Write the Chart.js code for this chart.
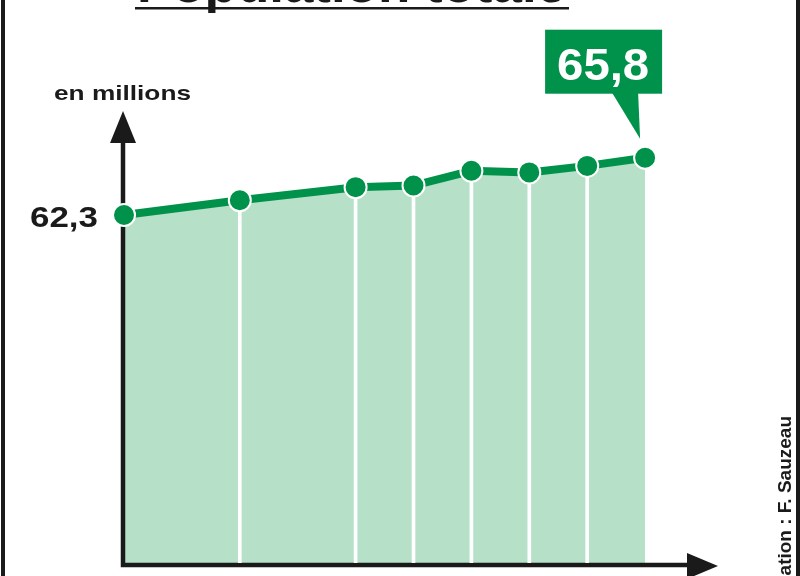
<!DOCTYPE html>
<html>
<head>
<meta charset="utf-8">
<script src="https://cdn.jsdelivr.net/npm/chart.js@4/dist/chart.umd.min.js"></script>
<style>
  body { margin: 0; background: #fff; }
  #wrap { width: 800px; height: 576px; }
</style>
</head>
<body>
<div id="wrap"><canvas id="myChart" width="800" height="576"></canvas></div>
<script>
// Population totale, en millions (years are not visible on the crop)
const years = [2004, 2006, 2008, 2009, 2010, 2011, 2012, 2013];
const population = [62.3, 63.2, 64.0, 64.1, 65.0, 64.9, 65.3, 65.8];
const chartTitle = 'Population totale';
const unitLabel = 'en millions';
const credit = 'Réalisation : F. Sauzeau';

const green = '#00924a';
const mint = '#b6e0c8';
const ink = '#1a1a1a';

function fmt(v) {
    return v.toFixed(1).replace('.', ',');
}

// draws bold text squeezed/stretched to a given width
function wideText(ctx, text, x, y, size, width, align) {
    ctx.save();
    ctx.font = 'bold ' + size + 'px "Liberation Sans", Arial, sans-serif';
    const w = ctx.measureText(text).width;
    const sx = width / w;
    let left = x;
    if (align == 'right') left = x - width;
    if (align == 'center') left = x - width / 2;
    ctx.translate(left, y);
    ctx.scale(sx, 1);
    ctx.textAlign = 'left';
    ctx.textBaseline = 'alphabetic';
    ctx.fillText(text, 0, 0);
    ctx.restore();
}

const decorations = {
    id: 'decorations',
    beforeDatasetsDraw(chart) {
        // axes with arrows, over the fill but under the line
        const ctx = chart.ctx;
        ctx.save();
        ctx.strokeStyle = ink;
        ctx.fillStyle = ink;
        ctx.lineWidth = 4.5;
        ctx.lineCap = 'square';
        ctx.beginPath();
        ctx.moveTo(123, 135);
        ctx.lineTo(123, 565);
        ctx.lineTo(695, 565);
        ctx.stroke();
        ctx.beginPath();
        ctx.moveTo(123, 111);
        ctx.lineTo(136, 143);
        ctx.lineTo(110, 143);
        ctx.closePath();
        ctx.fill();
        ctx.beginPath();
        ctx.moveTo(718, 566);
        ctx.lineTo(687, 553);
        ctx.lineTo(687, 579);
        ctx.closePath();
        ctx.fill();
        ctx.restore();
    },
    afterDraw(chart) {
        const ctx = chart.ctx;
        const xs = chart.scales.x, ys = chart.scales.y;
        ctx.save();
        ctx.fillStyle = ink;

        // frame lines left and right
        ctx.fillRect(1, 0, 4, 576);
        ctx.fillRect(796, 0, 4, 576);

        // title, cut off by the top edge
        wideText(ctx, chartTitle, 137, 2, 52, 429, 'left');
        ctx.fillRect(135, 7, 434, 2.5);

        // unit label
        wideText(ctx, unitLabel, 54, 100, 21, 137, 'left');

        // first value
        const x0 = xs.getPixelForValue(years[0]);
        const y0 = ys.getPixelForValue(population[0]);
        wideText(ctx, fmt(population[0]), x0 - 26, y0 + 12, 30, 68, 'right');

        // callout on the last value
        const n = population.length - 1;
        const px = xs.getPixelForValue(years[n]);
        const py = ys.getPixelForValue(population[n]);
        ctx.fillStyle = green;
        ctx.fillRect(px - 100, py - 128, 117, 64);
        ctx.beginPath();
        ctx.moveTo(px - 33, py - 65);
        ctx.lineTo(px - 7, py - 65);
        ctx.lineTo(px - 5, py - 19);
        ctx.closePath();
        ctx.fill();
        ctx.fillStyle = '#fff';
        wideText(ctx, fmt(population[n]), px - 42, py - 78, 45, 92, 'center');

        // credit, vertical
        ctx.fillStyle = ink;
        ctx.translate(791, 416);
        ctx.rotate(-Math.PI / 2);
        ctx.font = 'bold 19px "Liberation Sans", Arial, sans-serif';
        ctx.textAlign = 'right';
        ctx.textBaseline = 'alphabetic';
        ctx.fillText(credit, 0, 0);
        ctx.restore();
    }
};

const points = years.map((y, i) => ({ x: y, y: population[i] }));
// white drop lines below the inner points
const drops = points.map((p, i) => (i == 0 || i == points.length - 1) ? { x: p.x, y: null } : p);

new Chart(document.getElementById('myChart').getContext('2d'), {
    data: {
        datasets: [
            {
                type: 'line',
                data: points,
                order: 0,
                borderColor: green,
                borderWidth: 8,
                tension: 0,
                fill: 'start',
                backgroundColor: mint,
                pointRadius: 11,
                pointBorderWidth: 2,
                pointBorderColor: '#fff',
                pointBackgroundColor: green,
                clip: false
            },
            {
                type: 'bar',
                data: drops,
                order: 1,
                backgroundColor: '#fff',
                barThickness: 3,
                grouped: false
            }
        ]
    },
    options: {
        responsive: false,
        animation: false,
        layout: { padding: { left: 124, right: 100, top: 100, bottom: 13 } },
        scales: {
            x: { type: 'linear', display: false, offset: false, min: 2004, max: 2004 + 576 / 57.9 },
            y: { type: 'linear', display: false, min: 41.04, max: 62.3 + 115 / 16.37 }
        },
        plugins: {
            legend: { display: false },
            tooltip: { enabled: false },
            filler: { drawTime: 'beforeDatasetsDraw' }
        }
    },
    plugins: [decorations]
});
</script>
</body>
</html>
